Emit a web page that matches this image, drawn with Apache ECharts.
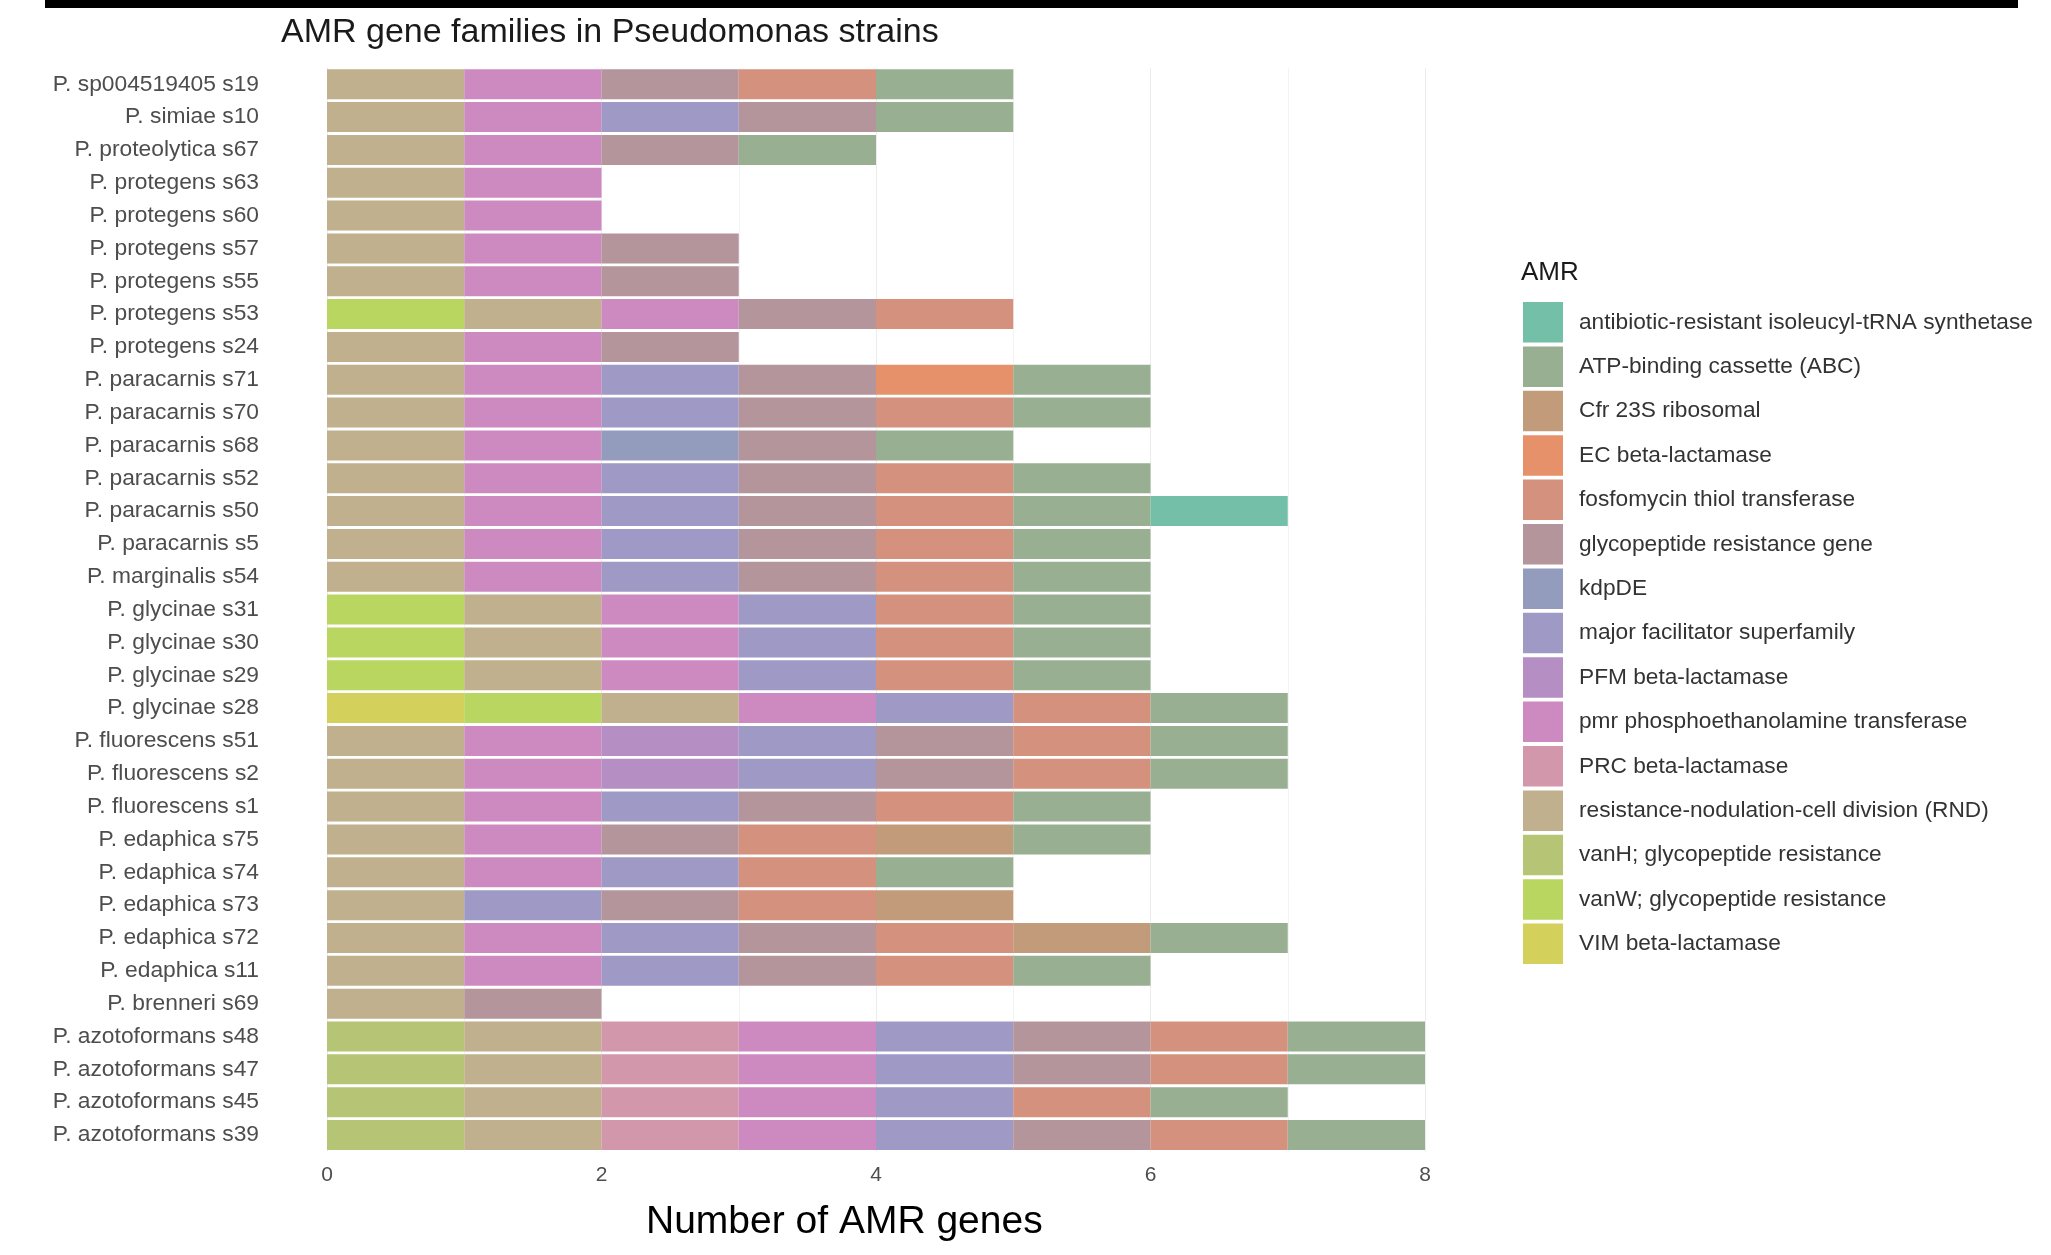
<!DOCTYPE html>
<html>
<head>
<meta charset="utf-8">
<title>AMR gene families in Pseudomonas strains</title>
<script src="https://cdn.jsdelivr.net/npm/echarts@6/dist/echarts.min.js"></script>
<style>
	html, body { margin: 0; padding: 0; background: #fff; }
	#chart { width: 2051px; height: 1255px; }
</style>
</head>
<body>
<div id="chart"></div>
<script>
// strains, top to bottom
var strains = [
	'P. sp004519405 s19', 'P. simiae s10', 'P. proteolytica s67',
	'P. protegens s63', 'P. protegens s60', 'P. protegens s57', 'P. protegens s55', 'P. protegens s53', 'P. protegens s24',
	'P. paracarnis s71', 'P. paracarnis s70', 'P. paracarnis s68', 'P. paracarnis s52', 'P. paracarnis s50', 'P. paracarnis s5',
	'P. marginalis s54',
	'P. glycinae s31', 'P. glycinae s30', 'P. glycinae s29', 'P. glycinae s28',
	'P. fluorescens s51', 'P. fluorescens s2', 'P. fluorescens s1',
	'P. edaphica s75', 'P. edaphica s74', 'P. edaphica s73', 'P. edaphica s72', 'P. edaphica s11',
	'P. brenneri s69',
	'P. azotoformans s48', 'P. azotoformans s47', 'P. azotoformans s45', 'P. azotoformans s39'
];

// gene families, legend order
var families = [
	'antibiotic-resistant isoleucyl-tRNA synthetase',
	'ATP-binding cassette (ABC)',
	'Cfr 23S ribosomal',
	'EC beta-lactamase',
	'fosfomycin thiol transferase',
	'glycopeptide resistance gene',
	'kdpDE',
	'major facilitator superfamily',
	'PFM beta-lactamase',
	'pmr phosphoethanolamine transferase',
	'PRC beta-lactamase',
	'resistance-nodulation-cell division (RND)',
	'vanH; glycopeptide resistance',
	'vanW; glycopeptide resistance',
	'VIM beta-lactamase'
];

var familyColors = [
	'#74BFA8', '#99AF92', '#C19B7A', '#E6916A', '#D4917E', '#B4959C', '#949CBD', '#9E99C5',
	'#B58EC3', '#CD8AC1', '#D397AB', '#C0B08D', '#B6C575', '#B9D660', '#D3D15B'
];

// gene counts per strain (same order as strains)
var isoleucyl = [0,0,0,0,0,0,0,0,0,0, 0,0,0,1,0,0,0,0,0,0, 0,0,0,0,0,0,0,0,0,0, 0,0,0];
var abc       = [1,1,1,0,0,0,0,0,0,1, 1,1,1,1,1,1,1,1,1,1, 1,1,1,1,1,0,1,1,0,1, 1,1,1];
var cfr       = [0,0,0,0,0,0,0,0,0,0, 0,0,0,0,0,0,0,0,0,0, 0,0,0,1,0,1,1,0,0,0, 0,0,0];
var ecBla     = [0,0,0,0,0,0,0,0,0,1, 0,0,0,0,0,0,0,0,0,0, 0,0,0,0,0,0,0,0,0,0, 0,0,0];
var fosfo     = [1,0,0,0,0,0,0,1,0,0, 1,0,1,1,1,1,1,1,1,1, 1,1,1,1,1,1,1,1,0,1, 1,1,1];
var glyco     = [1,1,1,0,0,1,1,1,1,1, 1,1,1,1,1,1,0,0,0,0, 1,1,1,1,0,1,1,1,1,1, 1,0,1];
var kdpde     = [0,0,0,0,0,0,0,0,0,0, 0,1,0,0,0,0,0,0,0,0, 0,0,0,0,0,0,0,0,0,0, 0,0,0];
var mfs       = [0,1,0,0,0,0,0,0,0,1, 1,0,1,1,1,1,1,1,1,1, 1,1,1,0,1,1,1,1,0,1, 1,1,1];
var pfm       = [0,0,0,0,0,0,0,0,0,0, 0,0,0,0,0,0,0,0,0,0, 1,1,0,0,0,0,0,0,0,0, 0,0,0];
var pmr       = [1,1,1,1,1,1,1,1,1,1, 1,1,1,1,1,1,1,1,1,1, 1,1,1,1,1,0,1,1,0,1, 1,1,1];
var prc       = [0,0,0,0,0,0,0,0,0,0, 0,0,0,0,0,0,0,0,0,0, 0,0,0,0,0,0,0,0,0,1, 1,1,1];
var rnd       = [1,1,1,1,1,1,1,1,1,1, 1,1,1,1,1,1,1,1,1,1, 1,1,1,1,1,1,1,1,1,1, 1,1,1];
var vanH      = [0,0,0,0,0,0,0,0,0,0, 0,0,0,0,0,0,0,0,0,0, 0,0,0,0,0,0,0,0,0,1, 1,1,1];
var vanW      = [0,0,0,0,0,0,0,1,0,0, 0,0,0,0,0,0,1,1,1,1, 0,0,0,0,0,0,0,0,0,0, 0,0,0];
var vim       = [0,0,0,0,0,0,0,0,0,0, 0,0,0,0,0,0,0,0,0,1, 0,0,0,0,0,0,0,0,0,0, 0,0,0];

var counts = [isoleucyl, abc, cfr, ecBla, fosfo, glyco, kdpde, mfs, pfm, pmr, prc, rnd, vanH, vanW, vim];

var xTicks = { min: 0, max: 8, interval: 2 };

// stacked from the left in reverse legend order (like ggplot)
var series = [];
for (var i = families.length - 1; i >= 0; i--) {
	series.push({
		name: families[i],
		type: 'bar',
		stack: 'amr',
		barWidth: 30,
		itemStyle: { color: familyColors[i] },
		emphasis: { disabled: true },
		data: counts[i]
	});
}

var font = '"Liberation Sans", Arial, sans-serif';

var chart = echarts.init(document.getElementById('chart'), null, { renderer: 'canvas' });
chart.setOption({
	backgroundColor: '#ffffff',
	animation: false,
	textStyle: { fontFamily: font },
	title: [
		{
			text: 'AMR gene families in Pseudomonas strains',
			left: 281, top: 16, padding: 0,
			textStyle: { fontFamily: font, fontSize: 34, fontWeight: 'normal', color: '#1a1a1a' }
		},
		{
			text: 'Number of AMR genes',
			left: 646, top: 1203, padding: 0,
			textStyle: { fontFamily: font, fontSize: 39, fontWeight: 'normal', color: '#000' }
		},
		{
			text: 'AMR',
			left: 1521, top: 260, padding: 0,
			textStyle: { fontFamily: font, fontSize: 26, fontWeight: 'normal', color: '#1a1a1a' }
		}
	],
	legend: {
		orient: 'vertical',
		left: 1523, top: 302,
		padding: 0,
		icon: 'rect',
		itemWidth: 40,
		itemHeight: 40.5,
		itemGap: 3.9,
		selectedMode: false,
		data: families,
		textStyle: { fontFamily: font, fontSize: 22.7, color: '#333', padding: [0, 0, 0, 11] }
	},
	grid: { left: 327, right: 626, top: 67.8, bottom: 103.6, containLabel: false },
	xAxis: {
		type: 'value',
		min: xTicks.min, max: xTicks.max, interval: xTicks.interval,
		axisLine: { show: false },
		axisTick: { show: false },
		axisLabel: { fontFamily: font, fontSize: 21, color: '#4d4d4d', margin: 13 },
		splitLine: { show: true, lineStyle: { color: '#ececec', width: 1 } },
		minorTick: { show: false, splitNumber: 2 },
		minorSplitLine: { show: true, lineStyle: { color: '#f3f3f3', width: 1 } }
	},
	yAxis: {
		type: 'category',
		data: strains,
		inverse: true,
		axisLine: { show: false },
		axisTick: { show: false },
		splitLine: { show: false },
		axisLabel: { fontFamily: font, fontSize: 22.8, color: '#4d4d4d', margin: 68 }
	},
	graphic: [
		{ type: 'rect', left: 45, top: 0, shape: { width: 1973, height: 8 }, style: { fill: '#000' }, silent: true }
	],
	series: series
});
</script>
</body>
</html>
